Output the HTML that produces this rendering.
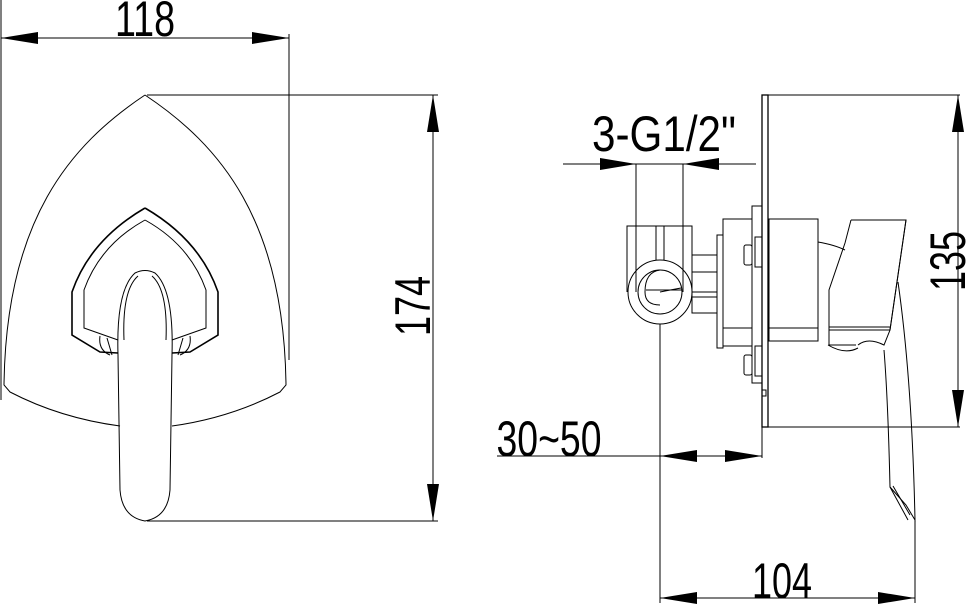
<!DOCTYPE html>
<html><head><meta charset="utf-8"><style>
html,body{margin:0;padding:0;background:#fff;}
svg{display:block;}
text{font-family:"Liberation Sans Narrow","Liberation Sans",sans-serif;fill:#000;}
</style></head><body>
<svg width="970" height="608" viewBox="0 0 970 608" xmlns="http://www.w3.org/2000/svg">
<g fill="none" stroke="#000" stroke-width="1">
<line x1="1" y1="0" x2="1" y2="400"/>
<line x1="289" y1="34" x2="289" y2="360"/>
<line x1="1" y1="38" x2="289" y2="38"/>
<line x1="147" y1="95" x2="438" y2="95"/>
<line x1="147" y1="521" x2="438" y2="521"/>
<line x1="433" y1="95" x2="433" y2="521"/>
<path d="M145 95 C70 145 6 220 4 385 L10 392 Q60 418 120 426"/>
<path d="M145 95 C220 145 284 220 286 385 L280 392 Q230 418 172 426"/>
<path d="M145 208 Q90 240 72 292 L72 335 L100 352 L118 353" stroke-width="1.6"/>
<path d="M145 208 Q200 240 218 292 L218 335 L190 352 L172 353" stroke-width="1.6"/>
<path d="M145 220 Q100 245 84 290 L84 328 L118 340"/>
<path d="M145 220 Q190 245 206 290 L206 328 L172 340"/>
<path d="M100 336 Q98 350 110 355 M190 336 Q192 350 180 355 M107 338 L112 355 M183 338 L178 355"/>
<path d="M118 355 Q116 290 135 273 Q145 268 155 273 Q174 290 172 355 L170 490 Q168 517 145 521 Q122 517 120 490 Z"/>
<path d="M124 340 Q122 290 138 276 M166 340 Q168 290 152 276"/>
</g>
<g fill="#000">
<polygon points="1,38 38,32 38,44"/>
<polygon points="289,38 252,32 252,44"/>
<polygon points="433,95 427,132 439,132"/>
<polygon points="433,521 427,484 439,484"/>
</g>
<text x="145" y="36" font-size="50" text-anchor="middle" textLength="60" lengthAdjust="spacingAndGlyphs">118</text>
<text transform="translate(430,306) rotate(-90)" font-size="50" text-anchor="middle" textLength="60" lengthAdjust="spacingAndGlyphs">174</text>

<g fill="none" stroke="#000" stroke-width="1">
<line x1="563" y1="164" x2="756" y2="164"/>
<line x1="636" y1="164" x2="636" y2="292"/>
<line x1="683" y1="164" x2="683" y2="292"/>
<rect x="762" y="95" width="6" height="332" stroke-width="1.3"/>
<line x1="768" y1="95" x2="960" y2="95"/>
<line x1="762" y1="427" x2="960" y2="427"/>
<line x1="958" y1="95" x2="958" y2="427"/>
<path d="M692 255 L692 226 L627 226 L627 292"/>
<line x1="656" y1="226" x2="656" y2="260"/>
<line x1="664" y1="226" x2="664" y2="260"/>
<circle cx="660" cy="292" r="32"/>
<circle cx="660" cy="292" r="22"/>
<path d="M660 270 Q645 272 645 292 Q645 305 660 305"/>
<path d="M646 290 L682 290 M660 292 Q670 290 681 288"/>
<rect x="692" y="255" width="25" height="58"/>
<line x1="692" y1="272" x2="717" y2="272"/>
<line x1="692" y1="292" x2="717" y2="292"/>
<line x1="692" y1="297" x2="717" y2="297"/>
<rect x="717" y="235" width="6" height="113"/>
<rect x="723" y="219" width="29" height="127"/>
<line x1="723" y1="328" x2="752" y2="328"/>
<rect x="752" y="206" width="10" height="177"/>
<rect x="755" y="237" width="7" height="30"/>
<rect x="755" y="346" width="7" height="30"/>
<rect x="744" y="245" width="8" height="20" rx="2"/>
<rect x="744" y="355" width="8" height="20" rx="2"/>
<rect x="762" y="390" width="4" height="6"/>
<rect x="769" y="219" width="49" height="122"/>
<line x1="769" y1="328" x2="818" y2="328"/>
<path d="M818 242 Q835 245 845 250"/>
<path d="M851 220 L906 220 L890 330 L829 330 L829 345 L856 345 M851 220 L845 243 L829 290 L829 330"/>
<line x1="829" y1="327" x2="890" y2="327"/>
<path d="M906 220 L890 330 L884 345 Q868 337 858 345"/>
<path d="M898 282 Q912 380 915 520 L906 505 L890 487 Q888 400 884 350"/>
<path d="M890 487 L908 520 M893 486 L910 515"/>
<path d="M828 345 Q845 355 858 348"/>
<line x1="497" y1="456" x2="762" y2="456"/>
<line x1="762" y1="427" x2="762" y2="458"/>
<line x1="660" y1="324" x2="660" y2="603"/>
<line x1="915" y1="520" x2="915" y2="603"/>
<line x1="660" y1="598" x2="915" y2="598"/>
</g>
<g fill="#000">
<polygon points="636,164 600,158 600,170"/>
<polygon points="683,164 719,158 719,170"/>
<polygon points="660,456 697,450 697,462"/>
<polygon points="762,456 725,450 725,462"/>
<polygon points="660,598 697,592 697,604"/>
<polygon points="915,598 878,592 878,604"/>
<polygon points="958,95 952,132 964,132"/>
<polygon points="958,427 952,390 964,390"/>
</g>
<text x="664" y="151" font-size="50" text-anchor="middle" textLength="144" lengthAdjust="spacingAndGlyphs">3-G1/2"</text>
<text x="549" y="456" font-size="50" text-anchor="middle" textLength="105" lengthAdjust="spacingAndGlyphs">30~50</text>
<text x="782" y="598" font-size="50" text-anchor="middle" textLength="60" lengthAdjust="spacingAndGlyphs">104</text>
<text transform="translate(965,261) rotate(-90)" font-size="50" text-anchor="middle" textLength="60" lengthAdjust="spacingAndGlyphs">135</text>
</svg>
</body></html>
